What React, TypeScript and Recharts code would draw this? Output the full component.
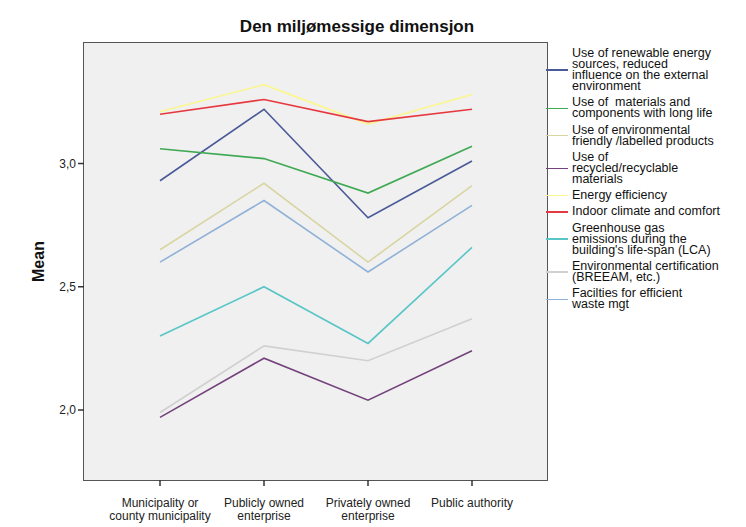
import { LineChart, Line, XAxis, YAxis } from 'recharts';

const categories = [
  'Municipality or\ncounty municipality',
  'Publicly owned\nenterprise',
  'Privately owned\nenterprise',
  'Public authority',
];

const renewable = [2.93, 3.22, 2.78, 3.01];
const materials = [3.06, 3.02, 2.88, 3.07];
const friendly = [2.65, 2.92, 2.6, 2.91];
const recycled = [1.97, 2.21, 2.04, 2.24];
const energy = [3.21, 3.32, 3.16, 3.28];
const indoor = [3.2, 3.26, 3.17, 3.22];
const greenhouse = [2.3, 2.5, 2.27, 2.66];
const certification = [1.99, 2.26, 2.2, 2.37];
const waste = [2.6, 2.85, 2.56, 2.83];

const yTicks = [2.0, 2.5, 3.0];

const series = [
  { key: 'renewable', values: renewable, color: '#4a5a98', label: 'Use of renewable energy\nsources, reduced\ninfluence on the external\nenvironment' },
  { key: 'materials', values: materials, color: '#3fa852', label: 'Use of  materials and\ncomponents with long life' },
  { key: 'friendly', values: friendly, color: '#d9d5a3', label: 'Use of environmental\nfriendly /labelled products' },
  { key: 'recycled', values: recycled, color: '#74427c', label: 'Use of\nrecycled/recyclable\nmaterials' },
  { key: 'energy', values: energy, color: '#fbf68e', label: 'Energy efficiency' },
  { key: 'indoor', values: indoor, color: '#e6393f', label: 'Indoor climate and comfort' },
  { key: 'greenhouse', values: greenhouse, color: '#58c6c6', label: "Greenhouse gas\nemissions during the\nbuilding's life-span (LCA)" },
  { key: 'certification', values: certification, color: '#d0d0d0', label: 'Environmental certification\n(BREEAM, etc.)' },
  { key: 'waste', values: waste, color: '#90b1d8', label: 'Facilties for efficient\nwaste mgt' },
];

const data = categories.map((cat, i) => {
  const row: Record<string, string | number> = { cat };
  series.forEach((s) => {
    row[s.key] = s.values[i];
  });
  return row;
});

const FONT = '"Liberation Sans", Arial, sans-serif';

// eslint-disable-next-line @typescript-eslint/no-explicit-any
function CategoryTick(props: any) {
  const { x, y, payload } = props;
  const lines = String(payload.value).split('\n');
  return (
    <text x={x} y={y + 19} textAnchor="middle" fontSize={12} fill="#222" fontFamily={FONT}>
      {lines.map((l, i) => (
        <tspan key={i} x={x} dy={i === 0 ? 0 : 13}>
          {l}
        </tspan>
      ))}
    </text>
  );
}

function formatY(v: number) {
  return v.toFixed(1).replace('.', ',');
}

export default function App() {
  return (
    <div
      style={{
        position: 'absolute',
        left: 0,
        top: 0,
        width: 746,
        height: 527,
        background: '#fff',
        fontFamily: FONT,
      }}
    >
      <div
        style={{
          position: 'absolute',
          left: 0,
          top: 17,
          width: 714,
          textAlign: 'center',
          fontSize: 17,
          fontWeight: 'bold',
          color: '#111',
        }}
      >
        Den miljømessige dimensjon
      </div>
      <div
        style={{
          position: 'absolute',
          left: 83,
          top: 42,
          width: 465,
          height: 439,
          boxSizing: 'border-box',
          border: '1.5px solid #555',
          background: '#f0f0f0',
        }}
      />
      <LineChart
        width={746}
        height={527}
        data={data}
        margin={{ top: 43, right: 199, bottom: 7, left: 8 }}
      >
        <XAxis
          dataKey="cat"
          interval={0}
          padding={{ left: 76, right: 75 }}
          axisLine={false}
          tickLine={{ stroke: '#333', strokeWidth: 1.5 }}
          tickSize={6}
          height={40}
          tick={<CategoryTick />}
        />
        <YAxis
          type="number"
          domain={[1.716, 3.489]}
          ticks={yTicks}
          tickFormatter={formatY}
          axisLine={false}
          tickLine={{ stroke: '#333', strokeWidth: 1.5 }}
          tickSize={6}
          width={76}
          tick={{ fontSize: 12, fill: '#222', fontFamily: FONT }}
          label={{
            value: 'Mean',
            angle: -90,
            position: 'center',
            dx: -8,
            style: { fontSize: 16, fontWeight: 'bold', fill: '#111', fontFamily: FONT },
          }}
        />
        {series.map((s) => (
          <Line
            key={s.key}
            dataKey={s.key}
            stroke={s.color}
            strokeWidth={1.6}
            dot={false}
            activeDot={false}
            isAnimationActive={false}
          />
        ))}
      </LineChart>
      <div
        style={{
          position: 'absolute',
          left: 546,
          top: 48,
          display: 'flex',
          flexDirection: 'column',
          gap: 5.3,
        }}
      >
        {series.map((s) => (
          <div key={s.key} style={{ display: 'flex', alignItems: 'center' }}>
            <div style={{ width: 22, height: 1.6, background: s.color, marginRight: 4 }} />
            <div
              style={{
                whiteSpace: 'pre',
                fontSize: 12.5,
                lineHeight: '11px',
                color: '#111',
              }}
            >
              {s.label}
            </div>
          </div>
        ))}
      </div>
    </div>
  );
}
